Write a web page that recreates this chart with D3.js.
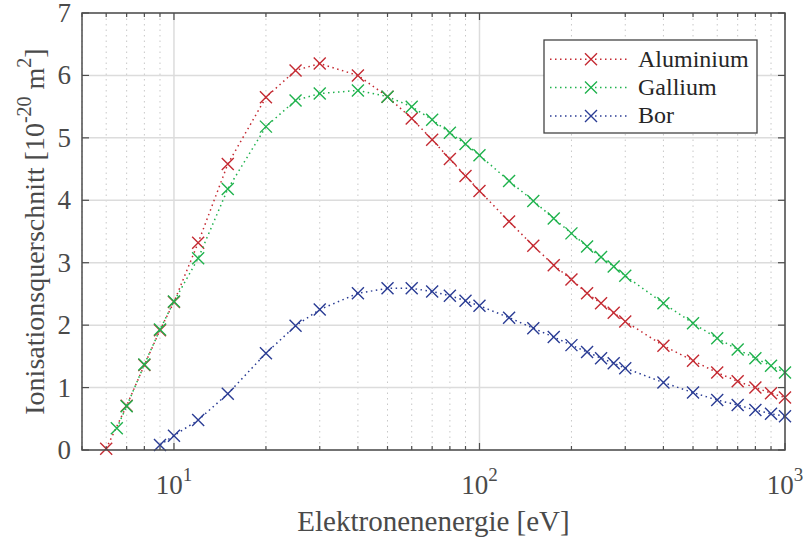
<!DOCTYPE html>
<html>
<head>
<meta charset="utf-8">
<script src="https://cdn.jsdelivr.net/npm/d3@7"></script>
<style>
  body { margin: 0; background: #fff; }
</style>
</head>
<body>
<div id="chart"></div>
<script>
// energies [eV]
var energyAl = [6, 7, 8, 9, 10, 12, 15, 20, 25, 30, 40, 50, 60, 70, 80, 90, 100, 125, 150, 175, 200, 225, 250, 275, 300, 400, 500, 600, 700, 800, 900, 1000];
var crossAl  = [0.02, 0.71, 1.36, 1.92, 2.37, 3.32, 4.58, 5.65, 6.08, 6.19, 6.00, 5.66, 5.31, 4.97, 4.66, 4.39, 4.15, 3.66, 3.27, 2.96, 2.73, 2.51, 2.35, 2.20, 2.06, 1.67, 1.43, 1.24, 1.10, 1.00, 0.91, 0.84];

var energyGa = [6.5, 7, 8, 9, 10, 12, 15, 20, 25, 30, 40, 50, 60, 70, 80, 90, 100, 125, 150, 175, 200, 225, 250, 275, 300, 400, 500, 600, 700, 800, 900, 1000];
var crossGa  = [0.35, 0.70, 1.37, 1.93, 2.38, 3.07, 4.18, 5.18, 5.60, 5.71, 5.76, 5.66, 5.50, 5.29, 5.08, 4.90, 4.72, 4.31, 3.99, 3.71, 3.47, 3.26, 3.09, 2.94, 2.79, 2.35, 2.03, 1.79, 1.61, 1.47, 1.35, 1.24];

var energyB = [9, 10, 12, 15, 20, 25, 30, 40, 50, 60, 70, 80, 90, 100, 125, 150, 175, 200, 225, 250, 275, 300, 400, 500, 600, 700, 800, 900, 1000];
var crossB  = [0.08, 0.23, 0.48, 0.90, 1.55, 1.99, 2.25, 2.51, 2.59, 2.59, 2.54, 2.47, 2.39, 2.31, 2.12, 1.95, 1.81, 1.68, 1.57, 1.47, 1.39, 1.31, 1.08, 0.92, 0.80, 0.72, 0.64, 0.58, 0.54];

var seriesNames = ["Aluminium", "Gallium", "Bor"];
var yTicks = [0, 1, 2, 3, 4, 5, 6, 7];
var xDecades = [10, 100, 1000];

var series = [
  {name: seriesNames[0], x: energyAl, y: crossAl, color: "#c42a32"},
  {name: seriesNames[1], x: energyGa, y: crossGa, color: "#1fb24d"},
  {name: seriesNames[2], x: energyB,  y: crossB,  color: "#2a3c94"}
];

var serif = "'Liberation Serif', 'DejaVu Serif', 'Times New Roman', serif";

var W = 803, H = 541;
var m = {left: 82, right: 18, top: 13, bottom: 91};
var iw = W - m.left - m.right, ih = H - m.top - m.bottom;

var svg = d3.select("#chart").append("svg").attr("width", W).attr("height", H)
  .attr("font-family", serif).style("font-family", serif);
var g = svg.append("g").attr("transform", "translate(" + m.left + "," + m.top + ")");

var x = d3.scaleLog().domain([5, 1000]).range([0, iw]);
var y = d3.scaleLinear().domain([0, 7]).range([ih, 0]);

// minor grid (dotted)
var minor = [];
[1, 10, 100].forEach(function(dec) {
  for (var k = 1; k <= 9; k++) {
    var v = dec * k;
    if (v >= 5 && v <= 1000 && xDecades.indexOf(v) < 0) minor.push(v);
  }
});
g.selectAll(".minor").data(minor).enter().append("line")
  .attr("x1", d => x(d)).attr("x2", d => x(d))
  .attr("y1", 0).attr("y2", ih)
  .attr("stroke", "#c8c8c8").attr("stroke-width", 1)
  .attr("stroke-dasharray", "1.5,4");

// major grid
g.selectAll(".vmaj").data(xDecades).enter().append("line")
  .attr("x1", d => x(d)).attr("x2", d => x(d))
  .attr("y1", 0).attr("y2", ih)
  .attr("stroke", "#dcdcdc").attr("stroke-width", 1.5);
g.selectAll(".hmaj").data(yTicks).enter().append("line")
  .attr("x1", 0).attr("x2", iw)
  .attr("y1", d => y(d)).attr("y2", d => y(d))
  .attr("stroke", "#dcdcdc").attr("stroke-width", 1.5);

// series lines + markers
var line = d3.line().x(d => x(d[0])).y(d => y(d[1]));
series.forEach(function(s) {
  var pts = s.x.map((v, i) => [v, s.y[i]]);
  g.append("path").datum(pts).attr("d", line)
    .attr("fill", "none").attr("stroke", s.color)
    .attr("stroke-width", 1.5).attr("stroke-dasharray", "1.5,3.5");
  var r = 6;
  g.selectAll(null).data(pts).enter().append("path")
    .attr("d", d => {
      var cx = x(d[0]), cy = y(d[1]);
      return "M" + (cx - r) + "," + (cy - r) + "L" + (cx + r) + "," + (cy + r) +
             "M" + (cx - r) + "," + (cy + r) + "L" + (cx + r) + "," + (cy - r);
    })
    .attr("stroke", s.color).attr("stroke-width", 1.4).attr("fill", "none");
});

// frame and ticks
var axisColor = "#4d4d4d";
g.append("rect").attr("width", iw).attr("height", ih)
  .attr("fill", "none").attr("stroke", axisColor).attr("stroke-width", 1.5);

var allX = minor.concat(xDecades);
allX.forEach(function(v) {
  var len = xDecades.indexOf(v) >= 0 ? 7 : 4;
  g.append("line").attr("x1", x(v)).attr("x2", x(v)).attr("y1", ih).attr("y2", ih - len)
    .attr("stroke", axisColor).attr("stroke-width", 1.2);
  g.append("line").attr("x1", x(v)).attr("x2", x(v)).attr("y1", 0).attr("y2", len)
    .attr("stroke", axisColor).attr("stroke-width", 1.2);
});
yTicks.forEach(function(v) {
  g.append("line").attr("x1", 0).attr("x2", 7).attr("y1", y(v)).attr("y2", y(v))
    .attr("stroke", axisColor).attr("stroke-width", 1.2);
  g.append("line").attr("x1", iw).attr("x2", iw - 7).attr("y1", y(v)).attr("y2", y(v))
    .attr("stroke", axisColor).attr("stroke-width", 1.2);
});

// tick labels
var textColor = "#4a4a4a";
g.selectAll(".ylab").data(yTicks).enter().append("text")
  .attr("x", -11).attr("y", d => y(d) + 9)
  .attr("text-anchor", "end").attr("font-size", 27).attr("fill", textColor)
  .text(d => d);

xDecades.forEach(function(v) {
  var t = g.append("text").attr("x", x(v)).attr("y", ih + 44)
    .attr("text-anchor", "middle").attr("font-size", 27).attr("fill", textColor);
  t.append("tspan").text("10");
  t.append("tspan").attr("dy", -13).attr("font-size", 19).text(Math.round(Math.log10(v)));
});

// axis titles
svg.append("text").attr("x", m.left + iw / 2).attr("y", 531)
  .attr("text-anchor", "middle").attr("font-size", 29).attr("fill", textColor)
  .text("Elektronenenergie [eV]");

var yt = svg.append("text")
  .attr("transform", "translate(44," + (m.top + ih / 2) + ") rotate(-90)")
  .attr("text-anchor", "middle").attr("font-size", 28).attr("fill", textColor);
yt.append("tspan").text("Ionisationsquerschnitt [10");
yt.append("tspan").attr("dy", -13).attr("font-size", 20).text("-20");
yt.append("tspan").attr("dy", 13).text(" m");
yt.append("tspan").attr("dy", -13).attr("font-size", 20).text("2");
yt.append("tspan").attr("dy", 13).text("]");

// legend
var lg = svg.append("g").attr("transform", "translate(544,40)");
lg.append("rect").attr("width", 213).attr("height", 93)
  .attr("fill", "#fff").attr("stroke", "#444").attr("stroke-width", 1.3);
series.forEach(function(s, i) {
  var ry = 19.3 + i * 28.3;
  lg.append("line").attr("x1", 6).attr("x2", 84).attr("y1", ry).attr("y2", ry)
    .attr("stroke", s.color).attr("stroke-width", 1.5).attr("stroke-dasharray", "1.5,3.5");
  var r = 6, cx = 47;
  lg.append("path")
    .attr("d", "M" + (cx - r) + "," + (ry - r) + "L" + (cx + r) + "," + (ry + r) +
               "M" + (cx - r) + "," + (ry + r) + "L" + (cx + r) + "," + (ry - r))
    .attr("stroke", s.color).attr("stroke-width", 1.4);
  lg.append("text").attr("x", 94).attr("y", ry + 7.5)
    .attr("font-size", 24).attr("fill", "#262626").text(s.name);
});
</script>
</body>
</html>
